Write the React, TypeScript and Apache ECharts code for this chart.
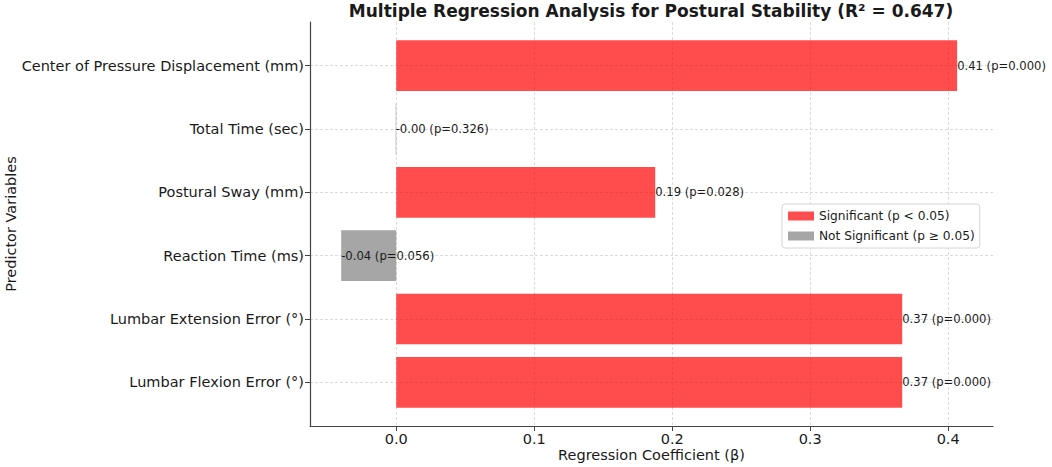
import React, { useEffect, useRef } from "react";
import * as echarts from "echarts";

const categories = [
  "Lumbar Flexion Error (°)",
  "Lumbar Extension Error (°)",
  "Reaction Time (ms)",
  "Postural Sway (mm)",
  "Total Time (sec)",
  "Center of Pressure Displacement (mm)",
];
const coefficients = [0.3667, 0.3667, -0.0399, 0.1877, -0.0004, 0.4065];
const pValues = [0.0, 0.0, 0.056, 0.028, 0.326, 0.0];
const xTicks = [0, 0.1, 0.2, 0.3, 0.4];
const yTicks = [0, 1, 2, 3, 4, 5];
const titleText = "Multiple Regression Analysis for Postural Stability (R² = 0.647)";
const sigName = "Significant (p < 0.05)";
const nonSigName = "Not Significant (p ≥ 0.05)";

const FONT = '"DejaVu Sans", sans-serif';
const TEXT = "#1a1a1a";
const GRID = { left: 310, right: 59, top: 22, bottom: 41 };

function makeRender() {
  return (params: any, api: any) => {
    const v = api.value(0);
    const idx = api.value(1);
    const p0 = api.coord([0, idx]);
    const p1 = api.coord([v, idx]);
    const h = api.size([0, 0.8])[1];
    const x = Math.min(p0[0], p1[0]);
    const w = Math.abs(p1[0] - p0[0]);
    const label = `${coefficients[idx].toFixed(2)} (p=${pValues[idx].toFixed(3)})`;
    return {
      type: "group",
      children: [
        {
          type: "rect",
          shape: { x, y: p0[1] - h / 2, width: w, height: h },
          style: { fill: api.visual("color") },
        },
        {
          type: "text",
          x: p1[0],
          y: p1[1],
          style: {
            text: label,
            fill: TEXT,
            fontSize: 11.6,
            fontFamily: FONT,
            align: "left",
            verticalAlign: "middle",
          },
        },
      ],
    };
  };
}

export default function App() {
  const ref = useRef<HTMLDivElement>(null);
  useEffect(() => {
    document.body.style.margin = "0";
    if (!ref.current) return;
    const chart = echarts.init(ref.current, undefined, { renderer: "svg" });
    const sigData: any[] = [];
    const nonData: any[] = [];
    coefficients.forEach((c, i) => {
      if (pValues[i] < 0.05) sigData.push([c, i]);
      else nonData.push([c, i]);
    });
    const splitStyle = { color: "#d2d2d2", width: 0.8, type: [3, 2] as any };
    chart.setOption({
      animation: false,
      textStyle: { fontFamily: FONT },
      graphic: [
        {
          type: "text",
          x: 651,
          y: 2,
          style: {
            text: titleText,
            fill: TEXT,
            fontSize: 17,
            fontWeight: "bold",
            fontFamily: FONT,
            align: "center",
            verticalAlign: "top",
          },
        },
      ],
      legend: {
        orient: "vertical",
        left: 782,
        top: 204,
        backgroundColor: "#fff",
        borderColor: "#d4d4d4",
        borderWidth: 1,
        borderRadius: 3,
        padding: [6, 5, 6, 6],
        itemWidth: 26,
        itemHeight: 9,
        itemGap: 8,
        icon: "rect",
        textStyle: { fontSize: 12.2, color: TEXT, fontFamily: FONT },
        data: [sigName, nonSigName],
      },
      grid: { ...GRID, containLabel: false, outerBoundsMode: "none" },
      xAxis: {
        type: "value",
        min: -0.0625,
        max: 0.4325,
        name: "Regression Coefficient (β)",
        nameLocation: "middle",
        nameGap: 21,
        nameMoveOverlap: false,
        nameTextStyle: { fontSize: 14.5, color: TEXT, fontFamily: FONT },
        axisLine: { show: true, onZero: false, lineStyle: { color: "#444", width: 1.2 } },
        axisTick: { show: true, length: 5, customValues: xTicks, lineStyle: { color: "#444" } },
        axisLabel: {
          customValues: xTicks,
          formatter: (v: number) => v.toFixed(1),
          fontSize: 14.5,
          color: TEXT,
          margin: 5,
          fontFamily: FONT,
        },
        splitLine: { show: true, lineStyle: splitStyle },
      },
      yAxis: {
        type: "value",
        min: -0.69,
        max: 5.69,
        name: "Predictor Variables",
        nameLocation: "middle",
        nameGap: 292,
        nameMoveOverlap: false,
        nameRotate: 90,
        nameTextStyle: { fontSize: 14.5, color: TEXT, fontFamily: FONT },
        axisLine: { show: true, onZero: false, lineStyle: { color: "#444", width: 1.2 } },
        axisTick: { show: true, length: 5, customValues: yTicks, lineStyle: { color: "#444" } },
        axisLabel: {
          customValues: yTicks,
          formatter: (v: number) => categories[Math.round(v)] ?? "",
          fontSize: 14.5,
          color: TEXT,
          margin: 6,
          fontFamily: FONT,
        },
        splitLine: { show: true, lineStyle: splitStyle },
      },
      series: [
        {
          name: sigName,
          type: "custom",
          renderItem: makeRender(),
          itemStyle: { color: "rgba(255,0,0,0.7)" },
          encode: { x: 0, y: 1 },
          data: sigData,
          z: 3,
        },
        {
          name: nonSigName,
          type: "custom",
          renderItem: makeRender(),
          itemStyle: { color: "rgba(128,128,128,0.7)" },
          encode: { x: 0, y: 1 },
          data: nonData,
          z: 3,
        },
      ],
    });
    return () => chart.dispose();
  }, []);
  return <div ref={ref} style={{ width: 1052, height: 467 }} />;
}
